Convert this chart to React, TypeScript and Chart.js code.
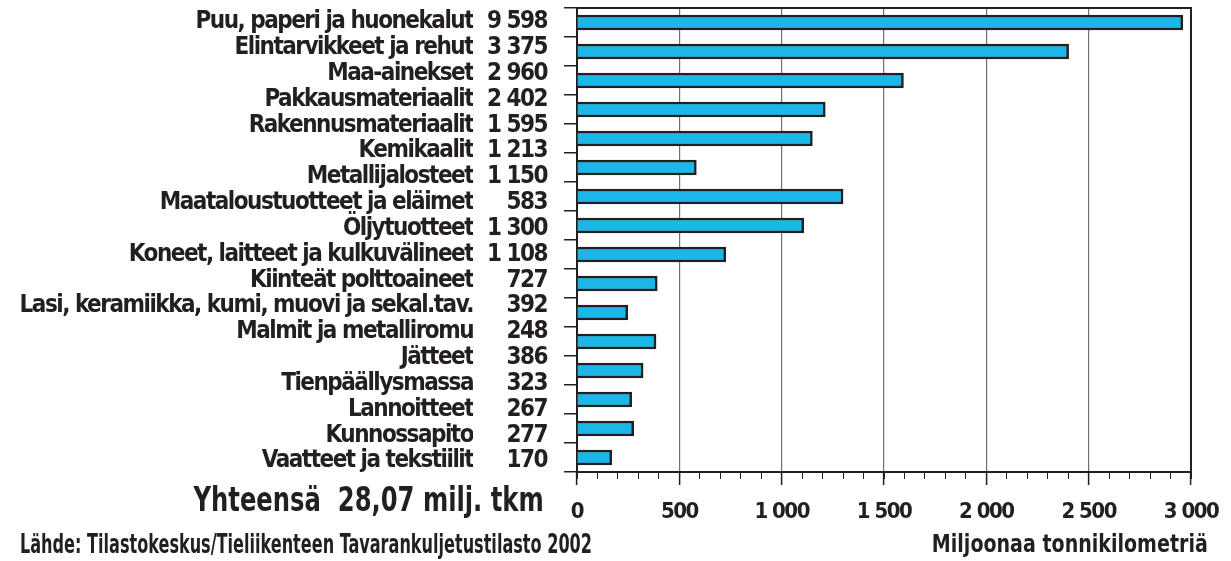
import React, { useEffect, useRef } from "react";
import { Chart, registerables } from "chart.js";

Chart.register(...registerables);

// ---- data ----
const categoryNames = [
  "Puu, paperi ja huonekalut",
  "Elintarvikkeet ja rehut",
  "Maa-ainekset",
  "Pakkausmateriaalit",
  "Rakennusmateriaalit",
  "Kemikaalit",
  "Metallijalosteet",
  "Maataloustuotteet ja eläimet",
  "Öljytuotteet",
  "Koneet, laitteet ja kulkuvälineet",
  "Kiinteät polttoaineet",
  "Lasi, keramiikka, kumi, muovi ja sekal.tav.",
  "Malmit ja metalliromu",
  "Jätteet",
  "Tienpäällysmassa",
  "Lannoitteet",
  "Kunnossapito",
  "Vaatteet ja tekstiilit",
];
const categoryTotals = [
  "9 598", "3 375", "2 960", "2 402", "1 595", "1 213", "1 150", "583", "1 300",
  "1 108", "727", "392", "248", "386", "323", "267", "277", "170",
];
const barCategories = [
  "Maa-ainekset", "Pakkausmateriaalit", "Rakennusmateriaalit", "Kemikaalit",
  "Metallijalosteet", "Maataloustuotteet ja eläimet", "Öljytuotteet",
  "Koneet, laitteet ja kulkuvälineet", "Kiinteät polttoaineet",
  "Lasi, keramiikka, kumi, muovi ja sekal.tav.", "Malmit ja metalliromu", "Jätteet",
  "Tienpäällysmassa", "Lannoitteet", "Kunnossapito", "Vaatteet ja tekstiilit",
];
const barValues = [2960, 2402, 1595, 1213, 1150, 583, 1300, 1108, 727, 392, 248, 386, 323, 267, 277, 170];
const xMin = 0;
const xMax = 3000;
const xMajorStep = 500;
const xMinorStep = 100;
const totalText = "Yhteensä  28,07 milj. tkm";
const sourceText = "Lähde: Tilastokeskus/Tieliikenteen Tavarankuljetustilasto 2002";
const xTitle = "Miljoonaa tonnikilometriä";

const FONT = '"Liberation Sans Narrow", "DejaVu Sans Condensed", "Arial Narrow", sans-serif';
const INK = "#231f20";
const BAR = "#1bb7e8";
const LABEL_MIN = -0.546;
const LABEL_MAX = 17.417;

const fmt = (v: number) => String(v).replace(/\B(?=(\d{3})+(?!\d))/g, " ");

export default function App() {
  const ref = useRef<HTMLCanvasElement>(null);

  useEffect(() => {
    const framePlugin = {
      id: "frame",
      beforeDraw(chart: any) {
        (chart.ctx as any).letterSpacing = "-1.5px";
      },
      afterDraw(chart: any) {
        const { ctx, chartArea: a } = chart;
        ctx.save();
        ctx.strokeStyle = INK;
        ctx.lineWidth = 2;
        ctx.beginPath();
        ctx.moveTo(a.left, a.top);
        ctx.lineTo(a.right, a.top);
        ctx.lineTo(a.right, a.bottom);
        ctx.stroke();
        ctx.restore();
        (ctx as any).letterSpacing = "0px";
      },
    };

    const labelAxis = (labels: string[], weight: number, padding: number, width: number) => ({
      type: "linear",
      axis: "y",
      position: "left",
      weight,
      reverse: true,
      offset: false,
      min: LABEL_MIN,
      max: LABEL_MAX,
      afterBuildTicks: (s: any) => {
        s.ticks = labels.map((_, i) => ({ value: i }));
        s.min = LABEL_MIN;
        s.max = LABEL_MAX;
      },
      afterFit: (s: any) => {
        s.width = width;
        s.paddingTop = 0;
        s.paddingBottom = 0;
      },
      ticks: {
        autoSkip: false,
        padding,
        color: INK,
        font: { family: FONT, size: 24, weight: "bold" },
        callback: (v: any) => labels[Math.round(Number(v))] ?? "",
      },
      grid: { display: false, drawTicks: false, offset: false },
      border: { display: false },
    });

    const chart = new Chart(ref.current as HTMLCanvasElement, {
      type: "bar",
      data: {
        labels: barCategories,
        datasets: [
          {
            data: barValues,
            xAxisID: "x",
            yAxisID: "y",
            backgroundColor: BAR,
            borderColor: INK,
            borderWidth: 2.5,
            barThickness: 15,
          },
        ],
      },
      options: {
        indexAxis: "y",
        responsive: false,
        animation: false,
        events: [],
        layout: { padding: { left: 0, top: 8, right: 40, bottom: 0 } },
        plugins: { legend: { display: false }, tooltip: { enabled: false }, title: { display: false } },
        scales: {
          x: {
            type: "linear",
            position: "bottom",
            min: xMin,
            max: xMax,
            afterFit: (s: any) => {
              s.height = 89;
              s.paddingLeft = 0;
              s.paddingRight = 0;
            },
            ticks: {
              stepSize: xMajorStep,
              autoSkip: false,
              maxRotation: 0,
              padding: 14.5,
              color: INK,
              font: { family: FONT, size: 22, weight: "bold" },
              callback: (v: any) => fmt(Number(v)),
            },
            grid: { color: "#707070", lineWidth: 1.2, tickColor: INK, tickLength: 13, tickWidth: 1.5 },
            border: { color: INK, width: 2 },
          },
          xMinor: {
            type: "linear",
            axis: "x",
            position: { y: 15.5 },
            min: xMin,
            max: xMax,
            afterFit: (s: any) => {
              s.paddingLeft = 0;
              s.paddingRight = 0;
            },
            ticks: { stepSize: xMinorStep, display: false },
            grid: { drawOnChartArea: false, tickLength: 7, color: INK, lineWidth: 1 },
            border: { display: false },
          },
          y: {
            type: "category",
            position: "left",
            offset: true,
            weight: 0,
            afterFit: (s: any) => {
              s.width = 14;
              s.paddingTop = 0;
              s.paddingBottom = 0;
            },
            ticks: { display: false },
            grid: { offset: true, drawOnChartArea: false, tickLength: 13, color: INK, lineWidth: 1.5 },
            border: { color: INK, width: 2 },
          },
          yNums: labelAxis(categoryTotals, 1, 16, 90),
          yNames: labelAxis(categoryNames, 2, 0, 473),
        },
      } as any,
      plugins: [framePlugin],
    });
    return () => chart.destroy();
  }, []);

  const textBase: React.CSSProperties = {
    position: "absolute",
    fontFamily: FONT,
    fontWeight: "bold",
    color: INK,
    lineHeight: 1,
    whiteSpace: "pre",
  };

  return (
    <div style={{ position: "fixed", left: 0, top: 0, width: 1231, height: 561, background: "#fff" }}>
      <canvas ref={ref} width={1231} height={561} style={{ position: "absolute", left: 0, top: 0, width: 1231, height: 561 }} />
      <div style={{ ...textBase, fontSize: 33, right: 1231 - 544, top: 483, transform: "scaleX(0.817)", transformOrigin: "right center" }}>{totalText}</div>
      <div style={{ ...textBase, fontSize: 26, left: 20, top: 531, transform: "scaleX(0.688)", transformOrigin: "left center" }}>{sourceText}</div>
      <div style={{ ...textBase, fontSize: 25, right: 1231 - 1208, top: 531, transform: "scaleX(0.847)", transformOrigin: "right center" }}>{xTitle}</div>
    </div>
  );
}
